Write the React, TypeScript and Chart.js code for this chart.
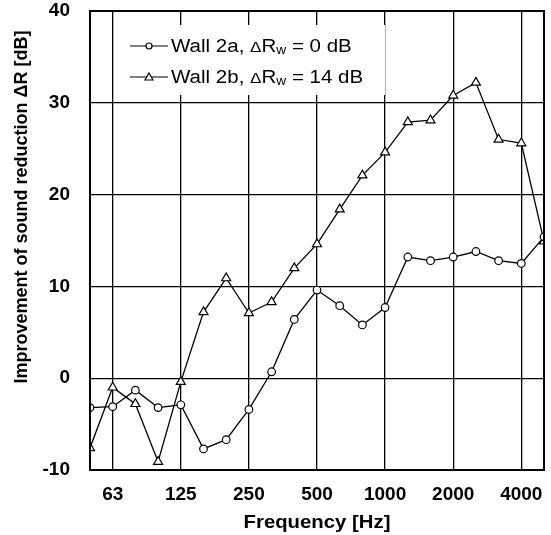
import { useEffect, useRef } from "react";
import { Chart, registerables } from "chart.js";

Chart.register(...registerables);

const frequencies = ["50", "63", "80", "100", "125", "160", "200", "250", "315", "400", "500", "630", "800", "1000", "1250", "1600", "2000", "2500", "3150", "4000", "5000"];
const tickLabels = ["63", "125", "250", "500", "1000", "2000", "4000"];
const wall2a = [-3.2, -3.1, -1.3, -3.2, -2.9, -7.7, -6.7, -3.4, 0.7, 6.4, 9.6, 7.9, 5.8, 7.7, 13.2, 12.8, 13.2, 13.8, 12.8, 12.5, 15.4];
const wall2b = [-7.6, -1.0, -2.8, -9.1, -0.4, 7.2, 10.9, 7.1, 8.3, 12.0, 14.6, 18.4, 22.1, 24.6, 27.9, 28.1, 30.8, 32.2, 26.0, 25.6, 14.9];
const yTicks = [-10, 0, 10, 20, 30, 40];
const seriesNames = ["Wall 2a, ", "Wall 2b, "];
const seriesRw = ["0", "14"];

const FONT = "'Liberation Sans', Arial, sans-serif";

const framePlugin = {
  id: "frame",
  afterDraw(chart: any) {
    const { ctx, chartArea: a } = chart;
    ctx.save();
    // legend box
    const bx = a.left + 26;
    const by = a.top + 14;
    ctx.fillStyle = "#fff";
    ctx.fillRect(bx, by, 269, 70);
    const rows = [by + 21, by + 52];
    const styles = ["circle", "triangle"];
    rows.forEach((ry, i) => {
      ctx.strokeStyle = "#000";
      ctx.lineWidth = 1.2;
      ctx.beginPath();
      ctx.moveTo(bx + 14, ry);
      ctx.lineTo(bx + 52, ry);
      ctx.stroke();
      ctx.fillStyle = "#fff";
      ctx.beginPath();
      if (styles[i] === "circle") {
        ctx.arc(bx + 33, ry, 3, 0, Math.PI * 2);
      } else {
        ctx.moveTo(bx + 33, ry - 4);
        ctx.lineTo(bx + 37, ry + 3);
        ctx.lineTo(bx + 29, ry + 3);
        ctx.closePath();
      }
      ctx.fill();
      ctx.stroke();
      ctx.fillStyle = "#000";
      ctx.textBaseline = "middle";
      ctx.textAlign = "left";
      ctx.save();
      ctx.translate(bx + 55, ry + 1);
      ctx.scale(1.14, 1);
      let x = 0;
      ctx.font = `18px ${FONT}`;
      ctx.fillText(seriesNames[i], x, 0);
      x += ctx.measureText(seriesNames[i]).width;
      ctx.font = `15px ${FONT}`;
      ctx.fillText("Δ", x, 1);
      x += ctx.measureText("Δ").width;
      ctx.font = `18px ${FONT}`;
      ctx.fillText("R", x, 0);
      x += ctx.measureText("R").width;
      ctx.font = `12px ${FONT}`;
      ctx.fillText("w", x, 4);
      x += ctx.measureText("w").width;
      ctx.font = `18px ${FONT}`;
      ctx.fillText(` = ${seriesRw[i]} dB`, x, 0);
      ctx.restore();
    });
    // frame
    ctx.strokeStyle = "#000";
    ctx.lineWidth = 2;
    ctx.strokeRect(a.left, a.top, a.right - a.left, a.bottom - a.top);
    // axis titles
    ctx.fillStyle = "#000";
    ctx.font = `bold 18px ${FONT}`;
    ctx.textAlign = "center";
    ctx.textBaseline = "alphabetic";
    ctx.save();
    ctx.translate((a.left + a.right) / 2, 528);
    ctx.scale(1.13, 1);
    ctx.fillText("Frequency [Hz]", 0, 0);
    ctx.restore();
    ctx.translate(27, 207);
    ctx.rotate(-Math.PI / 2);
    ctx.fillText("Improvement of sound reduction ΔR [dB]", 0, 0);
    ctx.restore();
  },
};

export default function App() {
  const ref = useRef<HTMLCanvasElement | null>(null);
  useEffect(() => {
    document.body.style.margin = "0";
    const canvas = ref.current;
    if (!canvas) return;
    const mk = (vals: number[]) => vals.map((v, i) => ({ x: i, y: v }));
    const chart = new Chart(canvas, {
      type: "line",
      data: {
        datasets: [
          {
            label: "Wall 2a",
            data: mk(wall2a),
            borderColor: "#000",
            borderWidth: 1.3,
            pointStyle: "circle",
            pointRadius: 3.8,
            pointBorderWidth: 1.2,
            pointBackgroundColor: "#fff",
            pointBorderColor: "#000",
            tension: 0,
          },
          {
            label: "Wall 2b",
            data: mk(wall2b),
            borderColor: "#000",
            borderWidth: 1.3,
            pointStyle: "triangle",
            pointRadius: 5.2,
            pointBorderWidth: 1.2,
            pointBackgroundColor: "#fff",
            pointBorderColor: "#000",
            tension: 0,
          },
        ],
      },
      options: {
        animation: false,
        responsive: false,
        layout: { padding: { left: 0, right: 7, top: 11, bottom: 0 } },
        plugins: { legend: { display: false }, tooltip: { enabled: false } },
        scales: {
          x: {
            type: "linear",
            min: 0,
            max: frequencies.length - 1,
            afterBuildTicks: (scale: any) => {
              scale.ticks = tickLabels.map((l) => ({ value: frequencies.indexOf(l) }));
            },
            afterFit: (scale: any) => {
              scale.height = 65;
              scale.paddingRight = 0;
              scale.paddingLeft = 0;
            },
            ticks: {
              callback: (v: any) => frequencies[v as number],
              color: "#000",
              font: { family: FONT, size: 19, weight: "bold" },
              padding: 13,
              maxRotation: 0,
              autoSkip: false,
            },
            grid: { color: "#000", lineWidth: 1.3, drawTicks: false },
            border: { color: "#000", width: 2 },
          },
          y: {
            min: -10,
            max: 40,
            afterBuildTicks: (scale: any) => {
              scale.ticks = yTicks.map((v) => ({ value: v }));
            },
            afterFit: (scale: any) => {
              scale.width = 90;
              scale.paddingTop = 0;
              scale.paddingBottom = 0;
            },
            ticks: {
              color: "#000",
              font: { family: FONT, size: 19, weight: "bold" },
              padding: 20,
            },
            grid: { color: "#000", lineWidth: 1.3, drawTicks: false },
            border: { color: "#000", width: 2 },
          },
        },
      },
      plugins: [framePlugin],
    });
    return () => chart.destroy();
  }, []);
  return (
    <div style={{ width: 551, height: 535 }}>
      <canvas ref={ref} width={551} height={535} />
    </div>
  );
}
